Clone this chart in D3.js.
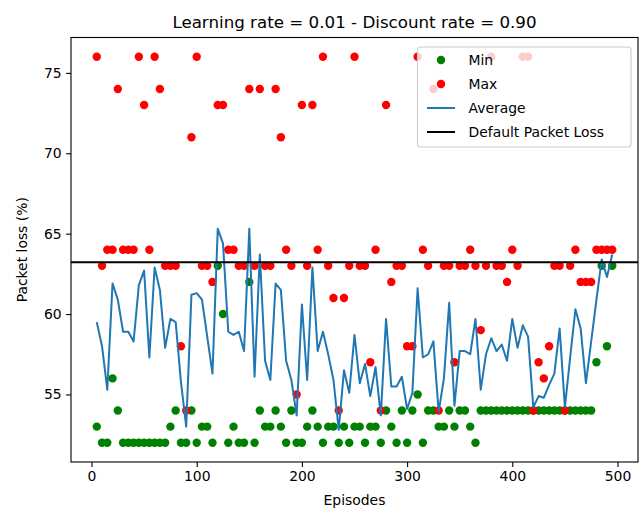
<!DOCTYPE html>
<html>
<head>
<meta charset="utf-8">
<script src="https://cdn.jsdelivr.net/npm/d3@7"></script>
<style>
  body { margin: 0; background: #fff; }
  svg { font-family: "DejaVu Sans", sans-serif; }
</style>
</head>
<body>
<div id="chart"></div>
<script>
// episodes 5, 10, ..., 495
const episodes = d3.range(5, 500, 5);

const minLoss = [
  53, 52, 52, 56, 54, 52, 52, 52, 52, 52,
  52, 52, 52, 52, 53, 54, 52, 52, 54, 52,
  53, 53, 52, 63, 60, 52, 53, 52, 52, 62,
  52, 54, 53, 53, 54, 53, 52, 54, 52, 52,
  53, 54, 53, 52, 53, 53, 52, 53, 52, 53,
  53, 52, 53, 53, 52, 54, 53, 52, 54, 52,
  54, 55, 52, 54, 54, 53, 53, 54, 53, 54,
  54, 53, 52, 54, 54, 54, 54, 54, 54, 54,
  54, 54, 54, 54, 54, 54, 54, 54, 54, 54,
  54, 54, 54, 54, 54, 57, 63, 58, 63
];

const maxLoss = [
  76, 63, 64, 64, 74, 64, 64, 64, 76, 73,
  64, 76, 74, 63, 63, 63, 58, 54, 71, 76,
  63, 63, 62, 73, 73, 64, 64, 63, 63, 74,
  63, 74, 63, 63, 74, 71, 64, 63, 55, 73,
  63, 73, 64, 76, 63, 61, 54, 61, 63, 76,
  63, 63, 57, 64, 54, 73, 62, 63, 63, 58,
  58, 76, 64, 63, 74, 54, 63, 63, 57, 63,
  63, 64, 63, 59, 63, 76, 63, 63, 62, 64,
  63, 76, 76, 54, 57, 56, 58, 63, 63, 54,
  63, 64, 62, 62, 62, 64, 64, 64, 64
];

const avgLoss = [
  59.5, 58.0, 55.3, 61.9, 60.9, 58.9, 58.9, 58.3, 61.8, 62.7,
  57.3, 62.9, 61.5, 57.9, 59.7, 59.5, 55.8, 53.0, 61.2, 61.3,
  60.9, 58.6, 56.3, 65.3, 64.4, 58.9, 58.7, 58.9, 57.7, 65.3,
  56.1, 63.7, 57.1, 55.9, 61.9, 61.5, 57.1, 55.9, 53.7, 60.6,
  55.9, 62.9, 57.7, 58.9, 57.5, 55.9, 52.8, 56.5, 55.1, 58.7,
  55.7, 56.9, 54.9, 56.7, 53.7, 59.7, 55.5, 55.5, 56.1, 54.1,
  55.1, 61.6, 57.3, 57.5, 58.3, 53.9, 56.0, 60.7, 54.3, 57.7,
  57.7, 57.5, 59.7, 55.3, 57.5, 58.5, 57.7, 58.1, 57.1, 59.7,
  57.9, 59.3, 58.6, 54.2, 54.9, 54.8, 55.6, 56.3, 59.1, 54.2,
  57.3, 60.3, 59.1, 55.7, 58.3, 60.9, 63.4, 62.3, 63.7
];

const defaultLoss = 63.22;

const xTicks = [0, 100, 200, 300, 400, 500];
const yTicks = [55, 60, 65, 70, 75];
const legendLabels = ["Min", "Max", "Average", "Default Packet Loss"];

const chart = {};
chart.margin = { top: 37.5, right: 1, bottom: 48, left: 71 };
chart.width = 639 - chart.margin.left - chart.margin.right;
chart.height = 510 - chart.margin.top - chart.margin.bottom;

const svg = d3.select("#chart")
  .append("svg")
  .attr("width", 639)
  .attr("height", 510);

const g = svg.append("g")
  .attr("transform", "translate(" + chart.margin.left + "," + chart.margin.top + ")");

// matplotlib style 5% padding around the data
const x = d3.scaleLinear()
  .domain([-19.5, 519.5])
  .range([0, chart.width]);
const y = d3.scaleLinear()
  .domain([50.8, 77.2])
  .range([chart.height, 0]);

const xAxis = g.append("g")
  .attr("transform", `translate(0, ${chart.height})`)
  .call(d3.axisBottom(x).tickValues(xTicks).tickSize(4.9).tickPadding(4.5));
const yAxis = g.append("g")
  .call(d3.axisLeft(y).tickValues(yTicks).tickSize(4.9).tickPadding(4.5));

[xAxis, yAxis].forEach(a => {
  a.select(".domain").remove();
  a.selectAll("line").attr("stroke", "#000").attr("stroke-width", 1.1);
  a.selectAll("text")
    .attr("fill", "#000")
    .style("font-size", "13.9px")
    .style("font-family", "DejaVu Sans, sans-serif");
});

// scatter: min then max
g.append("g").selectAll("circle")
  .data(episodes.map((e, i) => ({ e, v: minLoss[i] })))
  .enter()
  .append("circle")
  .attr("cx", d => x(d.e))
  .attr("cy", d => y(d.v))
  .attr("r", 4.2)
  .attr("fill", "green");

g.append("g").selectAll("circle")
  .data(episodes.map((e, i) => ({ e, v: maxLoss[i] })))
  .enter()
  .append("circle")
  .attr("cx", d => x(d.e))
  .attr("cy", d => y(d.v))
  .attr("r", 4.2)
  .attr("fill", "red");

g.append("path")
  .datum(episodes.map((e, i) => ({ e, v: avgLoss[i] })))
  .attr("fill", "none")
  .attr("stroke", "#1f77b4")
  .attr("stroke-width", 2)
  .attr("stroke-linejoin", "round")
  .attr("d", d3.line()
    .x(d => x(d.e))
    .y(d => y(d.v))
  );

g.append("line")
  .attr("x1", 0)
  .attr("x2", chart.width)
  .attr("y1", y(defaultLoss))
  .attr("y2", y(defaultLoss))
  .attr("stroke", "#000")
  .attr("stroke-width", 2);

// frame
g.append("rect")
  .attr("width", chart.width)
  .attr("height", chart.height)
  .attr("fill", "none")
  .attr("stroke", "#000")
  .attr("stroke-width", 1.1);

// legend
const legend = g.append("g")
  .attr("transform", `translate(${chart.width - 220.5}, 9.5)`);
legend.append("rect")
  .attr("width", 213.5)
  .attr("height", 100)
  .attr("rx", 3)
  .attr("fill", "#fff")
  .attr("fill-opacity", 0.8)
  .attr("stroke", "#cccccc")
  .attr("stroke-width", 1.1);

const legendColors = ["green", "red", "#1f77b4", "#000"];
legendLabels.forEach((label, i) => {
  const row = legend.append("g").attr("transform", `translate(0, ${13 + i * 24})`);
  if (i < 2) {
    row.append("circle")
      .attr("cx", 23.5)
      .attr("cy", 0)
      .attr("r", 4.2)
      .attr("fill", legendColors[i]);
  } else {
    row.append("line")
      .attr("x1", 9.5)
      .attr("x2", 37.5)
      .attr("stroke", legendColors[i])
      .attr("stroke-width", 2);
  }
  row.append("text")
    .attr("x", 51)
    .attr("dy", "0.35em")
    .style("font-size", "13.9px")
    .text(label);
});

// labels
svg.append("text")
  .attr("x", chart.margin.left + chart.width / 2)
  .attr("y", 28)
  .attr("text-anchor", "middle")
  .style("font-size", "16.7px")
  .text("Learning rate = 0.01 - Discount rate = 0.90");

svg.append("text")
  .attr("x", chart.margin.left + chart.width / 2)
  .attr("y", 505)
  .attr("text-anchor", "middle")
  .style("font-size", "13.9px")
  .text("Episodes");

svg.append("text")
  .attr("transform", `translate(27, ${chart.margin.top + chart.height / 2}) rotate(-90)`)
  .attr("text-anchor", "middle")
  .style("font-size", "13.9px")
  .text("Packet loss (%)");
</script>
</body>
</html>
